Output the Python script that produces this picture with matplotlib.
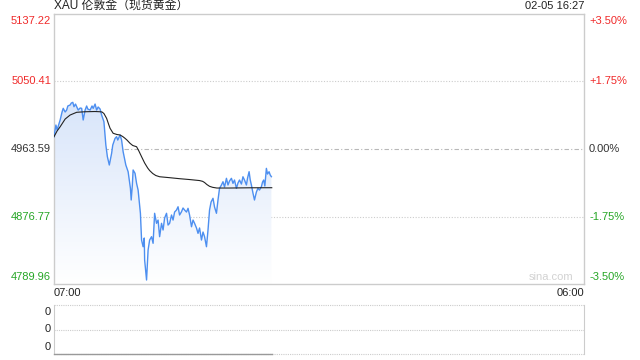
import numpy as np
import matplotlib.pyplot as plt
from matplotlib.colors import LinearSegmentedColormap
from matplotlib.patches import PathPatch

plt.rcParams['font.family'] = ['Liberation Sans', 'Noto Sans CJK SC', 'DejaVu Sans']

# minutes after 07:00 and prices (blue line)
minutes = [0, 5, 8, 16, 21, 24, 29, 33, 36, 42, 45, 49, 52, 56, 63, 68, 72, 76, 81, 85,
           88, 94, 99, 102, 107, 111, 115, 120, 124, 130, 135, 139, 144, 150, 153, 159, 163, 166, 172, 176,
           180, 187, 193, 199, 201, 204, 206, 211, 215, 219, 225, 228, 232, 235, 236, 241, 245, 249, 254, 258,
           262, 267, 271, 275, 280, 284, 288, 293, 297, 301, 306, 310, 314, 319, 323, 327, 332, 336, 340, 345,
           349, 353, 358, 362, 366, 371, 375, 379, 384, 388, 392, 397, 401, 405, 409, 414, 418, 423, 427, 431,
           436, 440, 444, 449, 453, 457, 462, 466, 470, 475, 479, 483, 488, 492, 496, 501, 504, 508, 511, 514,
           518, 522, 527, 531, 535, 540, 543, 546, 549, 553, 556, 560, 563, 566]
prices = [4979.4, 4994.4, 4988.0, 5000.9, 5011.2, 5015.9, 5011.2, 5013.7, 5018.9, 5020.2, 5022.7, 5023.6, 5018.0, 5021.4, 5013.7, 5016.3, 5015.9, 5000.9, 5013.7, 5018.9,
          5015.0, 5013.7, 5018.9, 5015.9, 5021.4, 5013.7, 5017.6, 5015.0, 5007.3, 4998.7, 4968.7, 4953.7, 4943.0, 4958.0, 4968.7, 4977.3, 4979.4, 4975.1, 4981.6, 4975.1,
          4960.1, 4943.0, 4934.4, 4913.0, 4898.0, 4917.3, 4936.6, 4932.3, 4919.4, 4910.8, 4880.9, 4846.5, 4837.9, 4849.1, 4820.8, 4795.1, 4833.7, 4846.5, 4850.8, 4842.3,
          4880.9, 4868.0, 4872.2, 4850.8, 4868.0, 4859.4, 4874.8, 4880.9, 4865.8, 4868.0, 4878.7, 4872.2, 4882.5, 4885.1, 4889.3, 4878.7, 4882.9, 4887.7, 4885.1, 4882.5,
          4887.3, 4878.7, 4863.6, 4872.2, 4868.0, 4862.0, 4855.1, 4862.0, 4846.5, 4856.8, 4850.8, 4837.9, 4859.4, 4885.1, 4895.4, 4900.2, 4889.0, 4880.9, 4898.0, 4913.0,
          4917.3, 4921.5, 4914.7, 4925.9, 4917.3, 4922.4, 4925.9, 4919.4, 4923.7, 4913.0, 4919.8, 4923.7, 4918.5, 4927.9, 4923.7, 4917.3, 4926.3, 4934.4, 4923.7, 4917.3,
          4907.0, 4898.0, 4908.3, 4913.0, 4910.8, 4915.1, 4921.1, 4923.7, 4916.0, 4938.7, 4931.4, 4934.4, 4930.1, 4928.0]

# average price line
avg_minutes = [0, 8, 16, 29, 42, 59, 81, 107, 120, 125, 130, 137, 142, 146, 154, 164, 172, 179, 185, 190,
               198, 205, 215, 221, 228, 236, 244, 249, 257, 265, 275, 301, 327, 353, 379, 387, 392, 398, 405, 413,
               424, 457, 509, 567]
avg_prices = [4979.4, 4986.7, 4992.2, 5002.1, 5007.3, 5010.8, 5011.5, 5011.8, 5011.5, 5011.2, 5009.2, 5003.0, 4995.7, 4990.2, 4983.8, 4982.2, 4981.6, 4979.6, 4977.3, 4975.1,
              4970.9, 4968.1, 4966.5, 4961.0, 4953.7, 4945.6, 4939.1, 4935.9, 4932.1, 4929.5, 4927.9, 4926.7, 4925.4, 4924.3, 4923.0, 4922.0, 4920.5, 4917.9, 4915.6, 4914.3,
              4913.4, 4913.4, 4913.7, 4913.8]

prev_close = 4963.59
price_ticks = [5137.22, 5050.41, 4963.59, 4876.77, 4789.96]
pct_labels = ['+3.50%', '+1.75%', '0.00%', '-1.75%', '-3.50%']
tick_colors = ['#f02a2a', '#f02a2a', '#333333', '#26a626', '#26a626']
time_labels = ['07:00', '06:00']
vol_minutes = [0, 567]
vol_values = [0, 0]

fig = plt.figure(figsize=(6.4, 3.6), dpi=100)
ax = fig.add_axes([54 / 640, 76 / 360, 530 / 640, 270 / 360])
ymin, ymax = price_ticks[-1], price_ticks[0]
ax.set_xlim(0, 1380)
ax.set_ylim(ymin, ymax)

# gradient fill under the price line
poly = ax.fill_between(minutes, prices, ymin, color='none', lw=0)
patch = PathPatch(poly.get_paths()[0], transform=ax.transData, fc='none', ec='none')
ax.add_patch(patch)
cmap = LinearSegmentedColormap.from_list('g', ['#ffffff', '#d8e5fa'])
grad = np.linspace(1, 0, 256).reshape(-1, 1)
img = ax.imshow(grad, extent=[0, max(minutes), ymin, max(prices)], aspect='auto', cmap=cmap,
                origin='upper', zorder=1)
img.set_clip_path(patch)

ax.plot(minutes, prices, color='#4d8ff0', lw=1.0, zorder=3)
ax.plot(avg_minutes, avg_prices, color='#222222', lw=0.8, zorder=4)

# grid lines
ax.axhline(price_ticks[1], color='#cccccc', lw=0.8, ls=(0, (1, 1.5)), zorder=0)
ax.axhline(price_ticks[2], color='#b8b8b8', lw=0.8, ls=(0, (4, 2, 1, 2)), zorder=0)
ax.axhline(price_ticks[3], color='#cccccc', lw=0.8, ls=(0, (1, 1.5)), zorder=0)

for s in ax.spines.values():
    s.set_color('#cccccc')
    s.set_linewidth(1)
ax.set_xticks([])
ax.set_yticks([])

# price / percent labels
vas = ['top', 'center', 'center', 'center', 'bottom']
offs = [-2, 0, 0, 0, 2]
for p, lab, c, va, o in zip(price_ticks, pct_labels, tick_colors, vas, offs):
    ax.annotate(f'{p:.2f}', (0, p), xycoords=('axes fraction', 'data'), xytext=(-3, o),
                textcoords='offset pixels', ha='right', va=va, fontsize=8, color=c)
    ax.annotate(lab, (1, p), xycoords=('axes fraction', 'data'), xytext=(5, o),
                textcoords='offset pixels', ha='left', va=va, fontsize=8, color=c)

ax.text(0, 1.01, 'XAU 伦敦金（现货黄金）', transform=ax.transAxes, ha='left', va='bottom',
        fontsize=8.6, color='#222222')
ax.text(1, 1.012, '02-05 16:27', transform=ax.transAxes, ha='right', va='bottom',
        fontsize=8, color='#222222')
ax.text(0.979, 0.006, 'sina.com', transform=ax.transAxes, ha='right', va='bottom',
        fontsize=8, color='#d2d2d2')
ax.text(0, -0.015, time_labels[0], transform=ax.transAxes, ha='left', va='top', fontsize=8, color='#222222')
ax.text(1, -0.015, time_labels[1], transform=ax.transAxes, ha='right', va='top', fontsize=8, color='#222222')

# volume panel
vax = fig.add_axes([54 / 640, 6 / 360, 530 / 640, 49 / 360])
vax.set_xlim(0, 1380)
vax.set_ylim(0, 1)
vax.plot(vol_minutes, vol_values, color='#999999', lw=1.0, zorder=3, clip_on=False)
for yy in [0, 0.5, 1]:
    vax.axhline(yy, color='#cccccc', lw=0.8, ls=(0, (1, 1)), zorder=0, clip_on=False)
for k in ['top', 'bottom']:
    vax.spines[k].set_visible(False)
for k in ['left', 'right']:
    vax.spines[k].set_color('#cccccc')
vax.set_xticks([])
vax.set_yticks([])
for yy, va, o in [(1, 'top', -2), (0.5, 'center', 0), (0, 'bottom', 2)]:
    vax.annotate('0', (0, yy), xycoords='axes fraction', xytext=(-3, o), textcoords='offset pixels',
                 ha='right', va=va, fontsize=8, color='#222222')

fig.savefig('out.png', dpi=100)
